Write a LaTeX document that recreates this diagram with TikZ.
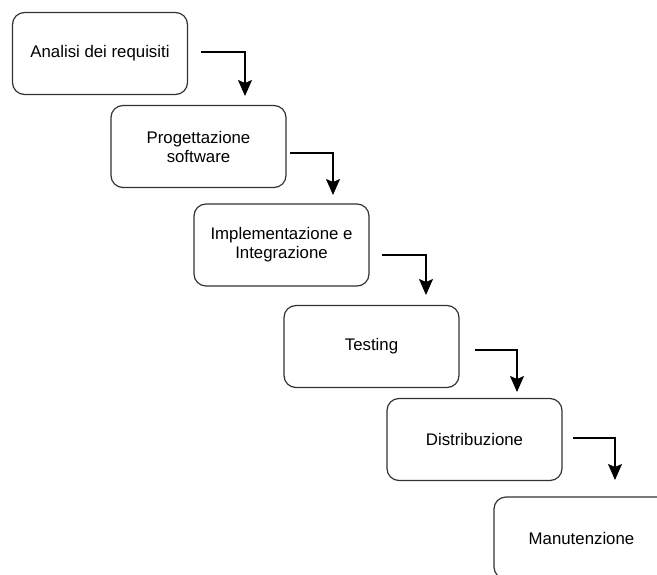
\documentclass[tikz,border=0pt]{standalone}
\usepackage{fontspec}
\setmainfont{Liberation Sans}
\usetikzlibrary{arrows.meta}
\begin{document}
\begin{tikzpicture}[x=1pt,y=-1pt,
  phase/.style={draw=black!80, line width=1.2pt, rounded corners=12pt,
    minimum width=175pt, minimum height=82pt, align=center, inner sep=0pt,
    font=\fontsize{16.8}{19}\selectfont, text=black},
  flow/.style={draw=black, line width=1.3pt,
    -{Stealth[length=16pt,width=14pt,inset=3pt]}}]
\useasboundingbox (0,0) rectangle (657,575);
\clip (0,0) rectangle (657,575);
\node[phase] (a) at (100,53.5) {Analisi dei requisiti};
\node[phase] (b) at (198.5,146.5) {Progettazione\\software};
\node[phase] (c) at (281.5,245) {Implementazione e\\Integrazione};
\node[phase] (d) at (371.5,346.5) {Testing};
\node[phase] (e) at (474.5,439.5) {Distribuzione};
\node[phase] (f) at (581.5,538) {Manutenzione};
\coordinate (s1) at (201,52);  \coordinate (t1) at (245,96);
\coordinate (s2) at (290,153); \coordinate (t2) at (333,195);
\coordinate (s3) at (382,255); \coordinate (t3) at (426,295);
\coordinate (s4) at (475,350); \coordinate (t4) at (517,392);
\coordinate (s5) at (573,438); \coordinate (t5) at (615,480);
\draw[flow] (s1) -| (t1);
\draw[flow] (s2) -| (t2);
\draw[flow] (s3) -| (t3);
\draw[flow] (s4) -| (t4);
\draw[flow] (s5) -| (t5);
\end{tikzpicture}
\end{document}
